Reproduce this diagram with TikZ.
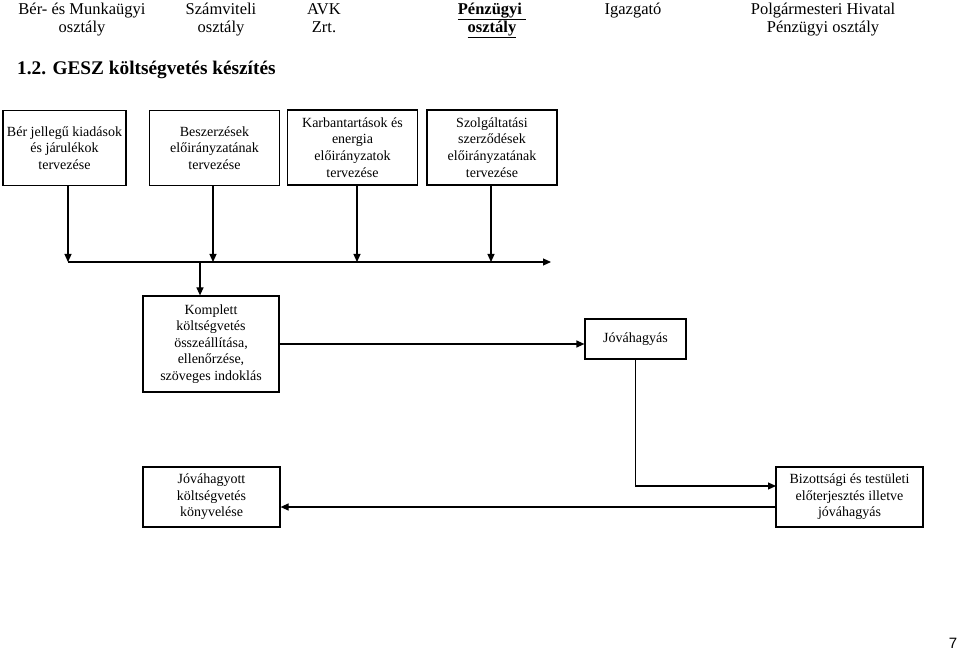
\documentclass[tikz,border=0pt]{standalone}
\usepackage{fontspec}
\setmainfont{Liberation Serif}
\newfontfamily\pagefont{Liberation Sans}
\usetikzlibrary{arrows.meta}
\begin{document}
\begin{tikzpicture}[x=1pt,y=-1pt,
  box/.style={draw,line width=1.2pt,align=center,inner sep=1pt,
    font=\fontsize{14}{16.6}\selectfont},
  head/.style={align=center,inner sep=0pt,font=\fontsize{16.5}{18.5}\selectfont},
  arr/.style={line width=1.2pt,-{Triangle[length=8pt,width=7pt]}},
  ln/.style={line width=1.2pt}]
\useasboundingbox (0,0) rectangle (959,652);
% headers
\node[head,anchor=north] (h1) at (82,1) {\strut Bér- és Munkaügyi\\osztály};
\node[head,anchor=north] (h2) at (221,1) {\strut Számviteli\\osztály};
\node[head,anchor=north] (h3) at (324,1) {\strut AVK\\Zrt.};
\node[head,anchor=north,font=\fontsize{16.5}{18.5}\selectfont\bfseries] (h4) at (492,1) {\strut\underline{Pénzügyi\ }\\\underline{osztály}};
\node[head,anchor=north] (h5) at (633,1) {\strut Igazgató};
\node[head,anchor=north] (h6) at (823,1) {\strut Polgármesteri Hivatal\\Pénzügyi osztály};
% title
\node[anchor=west,inner sep=0pt,font=\fontsize{19.3}{21}\selectfont\bfseries] (title) at (17,70) {1.2. GESZ költségvetés készítés};
% top boxes
\node[box,minimum width=123pt,minimum height=75pt] (b1) at (64.5,148) {Bér jellegű kiadások\\és járulékok\\tervezése};
\node[box,minimum width=130pt,minimum height=75pt] (b2) at (214.5,148) {Beszerzések\\előirányzatának\\tervezése};
\node[box,minimum width=130pt,minimum height=75pt] (b3) at (352.5,147.5) {Karbantartások és\\energia\\előirányzatok\\tervezése};
\node[box,minimum width=130pt,minimum height=75pt] (b4) at (492,147.5) {Szolgáltatási\\szerződések\\előirányzatának\\tervezése};
% bus
\coordinate (j1) at (68,262);
\coordinate (j2) at (213,262);
\coordinate (j3) at (357,262);
\coordinate (j4) at (491,262);
\coordinate (j0) at (200,262);
\coordinate (bend) at (551,262);
\draw[arr] (j1 |- b1.south) -- (j1);
\draw[arr] (j2 |- b2.south) -- (j2);
\draw[arr] (j3 |- b3.south) -- (j3);
\draw[arr] (j4 |- b4.south) -- (j4);
\draw[arr] (j1) -- (bend);
% middle
\node[box,minimum width=136pt,minimum height=96pt] (k) at (211,344) {Komplett\\költségvetés\\összeállítása,\\ellenőrzése,\\szöveges indoklás};
\node[box,minimum width=101pt,minimum height=40pt] (jo) at (635.5,339) {Jóváhagyás};
\draw[arr] (j0) -- (j0 |- k.north);
\draw[arr] (k.east) -- (k.east -| jo.west);
% bottom
\node[box,minimum width=137pt,minimum height=60pt] (jv) at (211.5,497) {Jóváhagyott\\költségvetés\\könyvelése};
\node[box,minimum width=147pt,minimum height=60pt] (bz) at (849.5,497) {Bizottsági és testületi\\előterjesztés illetve\\jóváhagyás};
\coordinate (bzin) at (776,486);
\coordinate (bzout) at (776,507);
\draw[arr] (jo.south) |- (bzin);
\draw[arr] (bzout) -- (bzout -| jv.east);
% page number
\node[inner sep=0pt,font=\pagefont\fontsize{15}{15}\selectfont] (pg) at (953,643) {7};
\end{tikzpicture}
\end{document}
